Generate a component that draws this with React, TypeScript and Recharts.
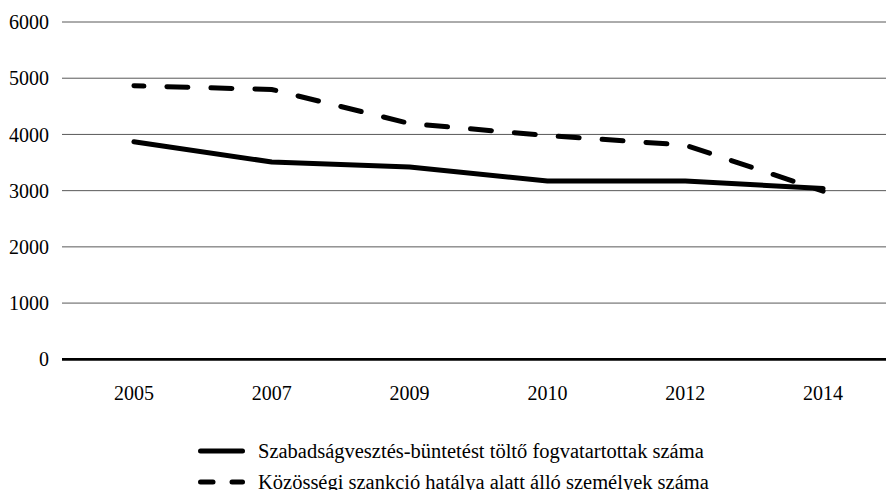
import React from "react";
import {
  LineChart,
  Line,
  XAxis,
  YAxis,
  CartesianGrid,
  Legend,
} from "recharts";

const years = ["2005", "2007", "2009", "2010", "2012", "2014"];
const prisoners = [3870, 3510, 3420, 3170, 3170, 3040];
const communitySanction = [4865, 4800, 4195, 3980, 3810, 2990];
const yTicks = [0, 1000, 2000, 3000, 4000, 5000, 6000];

const SERIES_PRISON = "Szabadságvesztés-büntetést töltő fogvatartottak száma";
const SERIES_COMMUNITY = "Közösségi szankció hatálya alatt álló személyek száma";

const chartData = years.map((year, i) => ({
  year,
  prison: prisoners[i],
  community: communitySanction[i],
}));

const FONT = "Liberation Serif";

const LegendBox = () => (
  <div style={{ fontFamily: FONT, fontSize: 20.5, color: "#000", paddingLeft: 196 }}>
    <div style={{ display: "flex", alignItems: "center", height: 31 }}>
      <svg width={62} height={10}>
        <line x1={4.5} y1={5} x2={46.5} y2={5} stroke="#000" strokeWidth={5} strokeLinecap="round" />
      </svg>
      <span>{SERIES_PRISON}</span>
    </div>
    <div style={{ display: "flex", alignItems: "center", height: 31 }}>
      <svg width={62} height={10}>
        <line x1={4.5} y1={5} x2={17} y2={5} stroke="#000" strokeWidth={5} strokeLinecap="round" />
        <line x1={36} y1={5} x2={46.5} y2={5} stroke="#000" strokeWidth={5} strokeLinecap="round" />
      </svg>
      <span>{SERIES_COMMUNITY}</span>
    </div>
  </div>
);

export default function App() {
  return (
    <div
      style={{
        position: "fixed",
        top: 0,
        left: 0,
        width: 886,
        height: 490,
        overflow: "hidden",
        background: "#fff",
      }}
    >
      <LineChart
        width={892}
        height={490}
        data={chartData}
        margin={{ top: 22, right: 0, left: 0, bottom: 38.7 }}
      >
        <CartesianGrid vertical={false} stroke="#595959" strokeWidth={1} />
        <XAxis
          dataKey="year"
          scale="band"
          padding={{ left: 3, right: 0 }}
          height={30}
          tickLine={false}
          tickSize={0}
          tickMargin={26}
          axisLine={{ stroke: "#000", strokeWidth: 2.7 }}
          tick={{ fill: "#000", fontSize: 20, fontFamily: FONT }}
        />
        <YAxis
          width={62}
          domain={[0, 6000]}
          ticks={yTicks}
          axisLine={false}
          tickLine={false}
          tickSize={0}
          tickMargin={13}
          tick={{ fill: "#000", fontSize: 20, fontFamily: FONT }}
        />
        <Legend
          content={() => <LegendBox />}
          wrapperStyle={{ top: 435.5, left: 0 }}
        />
        <Line
          type="linear"
          dataKey="community"
          name={SERIES_COMMUNITY}
          stroke="#000"
          strokeWidth={5}
          strokeDasharray="21 23"
          strokeDashoffset={11}
          strokeLinecap="round"
          dot={false}
          activeDot={false}
          isAnimationActive={false}
        />
        <Line
          type="linear"
          dataKey="prison"
          name={SERIES_PRISON}
          stroke="#000"
          strokeWidth={5}
          strokeLinecap="round"
          strokeLinejoin="round"
          dot={false}
          activeDot={false}
          isAnimationActive={false}
        />
      </LineChart>
    </div>
  );
}
